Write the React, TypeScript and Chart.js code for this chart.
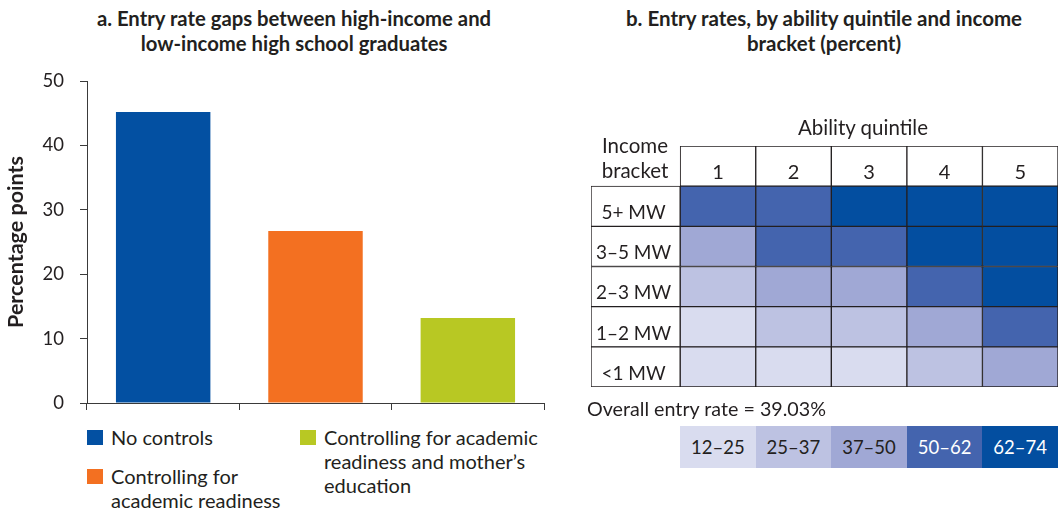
import React, { useEffect, useRef } from 'react';
import { Chart, registerables } from 'chart.js';

Chart.register(...registerables);

const FONT = 'Lato, "Open Sans", sans-serif';
const TEXT = '#231F20';
const LINE = '#3a3a3a';

// ----- Panel a data -----
const gapCategories = [
  'No controls',
  'Controlling for academic readiness',
  'Controlling for academic readiness and mother’s education',
];
const gapValues = [45.2, 26.7, 13.2];
const gapColors = ['#0350A2', '#F37021', '#B8C823'];
const gapTicks = [0, 10, 20, 30, 40, 50];

// ----- Panel b data -----
const quintiles = ['1', '2', '3', '4', '5'];
const incomeBrackets = ['5+ MW', '3–5 MW', '2–3 MW', '1–2 MW', '<1 MW'];
const rate5plus = [56, 60, 66, 70, 73];
const rate3to5 = [44, 55, 58, 66, 71];
const rate2to3 = [32, 42, 45, 58, 67];
const rate1to2 = [20, 29, 33, 43, 59];
const rateBelow1 = [14, 18, 23, 33, 46];
const rangeBreaks = [12, 25, 37, 50, 62, 74];
const rangeLabels = ['12–25', '25–37', '37–50', '50–62', '62–74'];
const rangeColors = ['#D9DCEF', '#BDC2E2', '#A0A8D5', '#4464AE', '#034EA0'];
const rangeTextColors = [TEXT, TEXT, TEXT, '#ffffff', '#ffffff'];
const overallRate = 39.03;

const LABEL_COL_MIN = -1.18;

function colorFor(v: number): string {
  for (let i = 0; i < rangeColors.length; i++) {
    if (v < rangeBreaks[i + 1]) return rangeColors[i];
  }
  return rangeColors[rangeColors.length - 1];
}

function zeroPad(s: any) {
  s.paddingTop = 0;
  s.paddingBottom = 0;
  s.paddingLeft = 0;
  s.paddingRight = 0;
}

function GapChart() {
  const ref = useRef<HTMLCanvasElement | null>(null);
  useEffect(() => {
    if (!ref.current) return;
    const chart = new Chart(ref.current, {
      type: 'bar',
      data: {
        labels: gapCategories,
        datasets: [
          {
            data: gapValues,
            backgroundColor: gapColors,
            barPercentage: 0.62,
            categoryPercentage: 1,
          },
        ],
      },
      options: {
        animation: false,
        responsive: false,
        maintainAspectRatio: false,
        layout: { padding: { left: 0, top: 21, right: 36, bottom: 0 }, autoPadding: false },
        plugins: {
          legend: { display: false },
          tooltip: { enabled: false },
          title: { display: false },
        },
        scales: {
          x: {
            grid: {
              display: true,
              drawOnChartArea: false,
              drawTicks: true,
              tickLength: 7,
              color: LINE,
              offset: true,
            },
            border: { display: true, color: LINE, width: 1 },
            ticks: { display: false },
            afterFit: (s: any) => {
              s.height = 7;
              zeroPad(s);
            },
          },
          y: {
            min: 0,
            max: 50,
            afterBuildTicks: (s: any) => {
              s.ticks = gapTicks.map((v) => ({ value: v }));
            },
            ticks: {
              font: { family: FONT, size: 18.5 },
              color: TEXT,
              padding: 16,
            },
            grid: {
              drawOnChartArea: false,
              drawTicks: true,
              tickLength: 7,
              color: LINE,
            },
            border: { display: true, color: LINE, width: 1 },
            title: {
              display: true,
              text: 'Percentage points',
              font: { family: FONT, size: 21.5, weight: 'bold' },
              color: TEXT,
              padding: { top: 3, bottom: 0 },
            },
            afterFit: (s: any) => {
              s.width = 87;
              zeroPad(s);
            },
          },
        },
      } as any,
    });
    return () => chart.destroy();
  }, []);
  return (
    <canvas
      ref={ref}
      width={580}
      height={350}
      style={{ position: 'absolute', left: 0, top: 60, display: 'block' }}
    />
  );
}

function HeatChart() {
  const ref = useRef<HTMLCanvasElement | null>(null);
  useEffect(() => {
    if (!ref.current) return;
    const rows = [rate5plus, rate3to5, rate2to3, rate1to2, rateBelow1];
    const labels: any[] = [[''], ...incomeBrackets.map((l) => ['', l])];

    const rowFontSize = 19;
    const mctx = ref.current.getContext('2d')!;
    mctx.font = `${rowFontSize}px ${FONT}`;
    const widest = Math.max(...incomeBrackets.map((l) => mctx.measureText(l).width));
    const yPad = 42.5 - widest / 2;

    const datasets: any[] = [
      {
        data: [null, ...incomeBrackets.map(() => [LABEL_COL_MIN, 0])],
        backgroundColor: '#ffffff',
      },
      ...quintiles.map((_, j) => ({
        data: [[j, j + 1], ...rows.map(() => [j, j + 1])],
        backgroundColor: ['#ffffff', ...rows.map((r) => colorFor(r[j]))],
      })),
    ];

    const chart = new Chart(ref.current, {
      type: 'bar',
      data: { labels, datasets },
      options: {
        animation: false,
        responsive: false,
        maintainAspectRatio: false,
        indexAxis: 'y',
        layout: { padding: { left: 11, top: 16, right: 1, bottom: 13 }, autoPadding: false },
        datasets: {
          bar: {
            barPercentage: 1,
            categoryPercentage: 1,
            grouped: false,
            borderWidth: 1,
            borderColor: TEXT,
            borderSkipped: false,
          },
        },
        plugins: {
          legend: { display: false },
          tooltip: { enabled: false },
          title: { display: false },
        },
        scales: {
          x: {
            type: 'linear',
            position: 'top',
            min: LABEL_COL_MIN,
            max: quintiles.length,
            afterBuildTicks: (s: any) => {
              s.ticks = quintiles.map((_, i) => ({ value: i + 0.5 }));
            },
            ticks: {
              callback: (_v: any, i: number) => quintiles[i],
              mirror: true,
              padding: 15,
              autoSkip: false,
              maxRotation: 0,
              font: { family: FONT, size: 20 },
              color: TEXT,
              z: 1,
            },
            grid: { display: false, drawTicks: false },
            border: { display: false },
            afterFit: (s: any) => {
              s.height = 0;
              zeroPad(s);
            },
          },
          y: {
            type: 'category',
            offset: true,
            ticks: {
              mirror: true,
              crossAlign: 'center',
              padding: yPad,
              autoSkip: false,
              font: { family: FONT, size: rowFontSize, lineHeight: 0.7 },
              color: TEXT,
              z: 1,
            },
            grid: { display: false, drawTicks: false },
            border: { display: false },
            afterFit: (s: any) => {
              s.width = 0;
              zeroPad(s);
            },
          },
        },
      } as any,
    });
    return () => chart.destroy();
  }, []);
  return (
    <canvas
      ref={ref}
      width={479}
      height={270}
      style={{ position: 'absolute', left: 580, top: 130, display: 'block' }}
    />
  );
}

const abs = (s: React.CSSProperties): React.CSSProperties => ({ position: 'absolute', ...s });

export default function App() {
  return (
    <div
      style={{
        position: 'absolute',
        left: 0,
        top: 0,
        width: 1059,
        height: 512,
        background: '#ffffff',
        overflow: 'hidden',
        fontFamily: FONT,
        color: TEXT,
      }}
    >
      <div
        style={abs({
          left: 0,
          top: 6,
          width: 588,
          textAlign: 'center',
          fontWeight: 'bold',
          fontSize: 20.3,
          lineHeight: '25px',
          whiteSpace: 'nowrap',
        })}
      >
        a. Entry rate gaps between high-income and
        <br />
        low-income high school graduates
      </div>
      <div
        style={abs({
          left: 590,
          top: 6,
          width: 468,
          textAlign: 'center',
          fontWeight: 'bold',
          fontSize: 20.5,
          lineHeight: '25px',
          whiteSpace: 'nowrap',
        })}
      >
        b. Entry rates, by ability quintile and income
        <br />
        bracket (percent)
      </div>

      <GapChart />
      <HeatChart />

      {/* Panel a legend */}
      <div style={abs({ left: 87, top: 430, width: 16, height: 15, background: gapColors[0] })} />
      <div style={abs({ left: 111, top: 425, fontSize: 20, lineHeight: '24px', whiteSpace: 'nowrap' })}>
        {gapCategories[0]}
      </div>
      <div style={abs({ left: 87, top: 469, width: 16, height: 15, background: gapColors[1] })} />
      <div style={abs({ left: 111, top: 464, fontSize: 20, lineHeight: '24px', whiteSpace: 'nowrap' })}>
        Controlling for
        <br />
        academic readiness
      </div>
      <div style={abs({ left: 300, top: 430, width: 16, height: 15, background: gapColors[2] })} />
      <div style={abs({ left: 324, top: 425, fontSize: 20, lineHeight: '24px', whiteSpace: 'nowrap' })}>
        Controlling for academic
        <br />
        readiness and mother’s
        <br />
        education
      </div>

      {/* Panel b labels */}
      <div style={abs({ left: 763, top: 115, width: 200, textAlign: 'center', fontSize: 20.5, lineHeight: '24px' })}>
        Ability quintile
      </div>
      <div style={abs({ left: 585, top: 133, width: 100, textAlign: 'center', fontSize: 20.5, lineHeight: '25px' })}>
        Income
        <br />
        bracket
      </div>
      <div style={abs({ left: 587, top: 397, fontSize: 19.7, lineHeight: '24px', whiteSpace: 'nowrap' })}>
        Overall entry rate = {overallRate.toFixed(2)}%
      </div>
      <div style={abs({ left: 680, top: 426, width: 378, height: 42, display: 'flex' })}>
        {rangeLabels.map((l, i) => (
          <div
            key={l}
            style={{
              flex: 1,
              background: rangeColors[i],
              color: rangeTextColors[i],
              textAlign: 'center',
              lineHeight: '42px',
              fontSize: 18.5,
            }}
          >
            {l}
          </div>
        ))}
      </div>
    </div>
  );
}
